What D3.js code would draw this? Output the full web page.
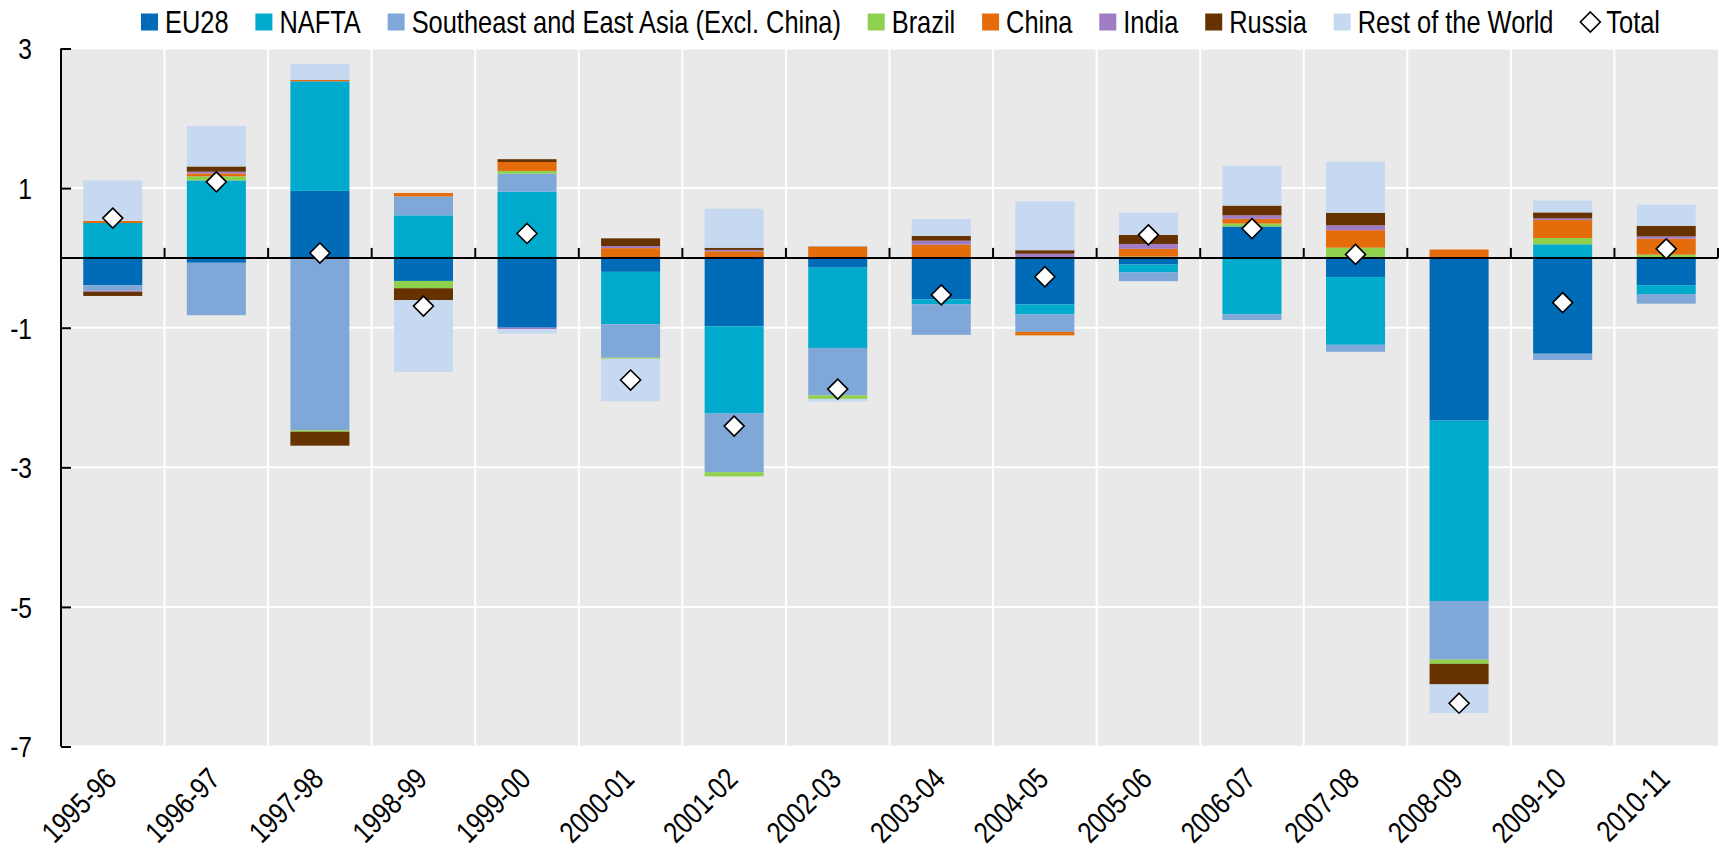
<!DOCTYPE html>
<html>
<head>
<meta charset="utf-8">
<script src="https://cdn.jsdelivr.net/npm/d3@7"></script>
<style>
  html, body { margin: 0; padding: 0; background: #ffffff; }
  svg { display: block; }
  text { font-family: "Liberation Sans", Arial, sans-serif; fill: #000; }
</style>
</head>
<body>
<svg id="chart" width="1721" height="850"></svg>
<script>
// ---------------- DATA ----------------
const categories = ["1995-96","1996-97","1997-98","1998-99","1999-00","2000-01","2001-02","2002-03",
                    "2003-04","2004-05","2005-06","2006-07","2007-08","2008-09","2009-10","2010-11"];

const seriesNames = ["EU28","NAFTA","Southeast and East Asia (Excl. China)","Brazil","China","India","Russia","Rest of the World"];

const EU28   = [-0.39,-0.07, 0.96,-0.33,-1.00,-0.20,-0.98,-0.14,-0.595,-0.667,-0.095, 0.45,-0.275,-2.33,-1.373,-0.39];
const NAFTA  = [ 0.50, 1.11, 1.57, 0.61, 0.95,-0.75,-1.25,-1.15,-0.067,-0.143,-0.114,-0.81,-0.97,-2.585, 0.195,-0.128];
const SEAsia = [-0.08,-0.75,-2.47, 0.27, 0.256,-0.48,-0.84,-0.68,-0.44,-0.25,-0.124,-0.08,-0.10,-0.84,-0.09,-0.138];
const Brazil = [ 0.00, 0.06,-0.02,-0.105, 0.04,-0.015,-0.06,-0.05, 0.00, 0.01, 0.02, 0.043, 0.147,-0.06, 0.09, 0.047];
const China  = [ 0.03, 0.04, 0.02, 0.05, 0.128, 0.14, 0.095, 0.156, 0.19,-0.05, 0.11, 0.067, 0.25, 0.12, 0.257, 0.228];
const India  = [-0.015, 0.025, 0.00, 0.00,-0.02, 0.03, 0.02, 0.00, 0.057, 0.05, 0.07, 0.05, 0.07, 0.00, 0.024, 0.033];
const Russia = [-0.06, 0.075,-0.20,-0.17, 0.04, 0.11, 0.03, 0.005, 0.07, 0.05, 0.13, 0.14, 0.18,-0.295, 0.086, 0.152];
const RestOfWorld = [0.58, 0.58, 0.23,-1.03,-0.066,-0.61, 0.56,-0.04, 0.24, 0.70, 0.32, 0.57, 0.73,-0.41, 0.17, 0.304];

const Total = [0.57, 1.09, 0.07,-0.69, 0.35,-1.75,-2.41,-1.88,-0.53,-0.27, 0.33, 0.42, 0.05,-6.38,-0.64, 0.13];

const yTicks = [3, 1, -1, -3, -5, -7];
const totalLabel = "Total";

// ---------------- STYLE ----------------
const seriesColors = ["#006bb6","#00aacc","#7fa8d8","#8fd14f","#e46c0a","#a07cc4","#663200","#c6d9f0"];
const plot = { left: 61, right: 1718, top: 48.5, bottom: 746.5 };
const fontSize = 30;
const legendFont = 31;
const NARROW = 0.82;   // horizontal condensing (Arial Narrow look)

// ---------------- BUILD ----------------
const seriesArrays = [EU28, NAFTA, SEAsia, Brazil, China, India, Russia, RestOfWorld];
const rows = categories.map((c, i) => {
  const r = { cat: c };
  seriesNames.forEach((s, k) => r[s] = seriesArrays[k][i]);
  return r;
});

const stacked = d3.stack().keys(seriesNames).offset(d3.stackOffsetDiverging)(rows);

const svg = d3.select("#chart");

const x = d3.scaleBand().domain(categories).range([plot.left, plot.right])
  .paddingInner(0.43).paddingOuter(0.215);
const y = d3.scaleLinear().domain([-7, 3]).range([plot.bottom, plot.top]);
const step = x.step();

// background
svg.append("rect").attr("x", plot.left).attr("y", plot.top)
  .attr("width", plot.right - plot.left).attr("height", plot.bottom - plot.top)
  .attr("fill", "#e9e9e9");

// horizontal gridlines
svg.append("g").selectAll("line").data(yTicks).join("line")
  .attr("x1", plot.left).attr("x2", plot.right)
  .attr("y1", d => y(d)).attr("y2", d => y(d))
  .attr("stroke", "#ffffff").attr("stroke-width", 2);

// vertical gridlines at category boundaries
const boundaries = d3.range(1, categories.length).map(i => plot.left + i * step);
svg.append("g").selectAll("line").data(boundaries).join("line")
  .attr("x1", d => d).attr("x2", d => d)
  .attr("y1", plot.top).attr("y2", plot.bottom)
  .attr("stroke", "#ffffff").attr("stroke-width", 2);

// bars
const gBars = svg.append("g");
stacked.forEach((layer, k) => {
  gBars.append("g").attr("fill", seriesColors[k])
    .selectAll("rect").data(layer).join("rect")
    .attr("x", d => x(d.data.cat))
    .attr("width", x.bandwidth())
    .attr("y", d => y(Math.max(d[0], d[1])))
    .attr("height", d => Math.abs(y(d[0]) - y(d[1])));
});

// zero line
svg.append("line").attr("x1", plot.left).attr("x2", plot.right)
  .attr("y1", y(0)).attr("y2", y(0)).attr("stroke", "#000").attr("stroke-width", 2);

// x ticks (upward from zero line at category boundaries)
const allBounds = d3.range(0, categories.length + 1).map(i => plot.left + i * step);
svg.append("g").selectAll("line").data(allBounds).join("line")
  .attr("x1", d => d).attr("x2", d => d)
  .attr("y1", y(0)).attr("y2", y(0) - 10)
  .attr("stroke", "#000").attr("stroke-width", 2);

// y axis (ticks pointing inward)
const yAxis = d3.axisLeft(y).tickValues(yTicks).tickSize(-10).tickFormat(() => "");
const gy = svg.append("g").attr("transform", `translate(${plot.left},0)`).call(yAxis);
gy.select(".domain").attr("stroke", "#000").attr("stroke-width", 2)
  .attr("d", `M0,${plot.top}V${plot.bottom}`);
gy.selectAll(".tick line").attr("stroke", "#000").attr("stroke-width", 2);
gy.selectAll(".tick text").remove();

// y labels (condensed)
svg.append("g").selectAll("text").data(yTicks).join("text")
  .attr("transform", d => `translate(32,${y(d)}) scale(${NARROW},1)`)
  .attr("text-anchor", "end")
  .attr("dy", "0.36em")
  .attr("font-size", fontSize)
  .text(d => String(d));

// x labels
svg.append("g").selectAll("text").data(categories).join("text")
  .attr("transform", d => `translate(${x(d) + x.bandwidth() / 2 - 10},${plot.bottom + 19}) rotate(-45) scale(${NARROW},1)`)
  .attr("text-anchor", "end")
  .attr("dy", "0.72em")
  .attr("font-size", fontSize)
  .text(d => d);

// totals (diamonds)
const diamond = r => `M0,${-r}L${r},0L0,${r}L${-r},0Z`;
svg.append("g").selectAll("path").data(categories).join("path")
  .attr("transform", (d, i) => `translate(${x(d) + x.bandwidth() / 2},${y(Total[i])})`)
  .attr("d", diamond(10))
  .attr("fill", "#ffffff").attr("stroke", "#000").attr("stroke-width", 1.6);

// legend
const legend = svg.append("g");
const legendItems = seriesNames.map((s, k) => ({ name: s, color: seriesColors[k], type: "rect" }))
  .concat([{ name: totalLabel, type: "diamond" }]);
const legY = 22;
const items = legendItems.map(it => {
  const g = legend.append("g");
  if (it.type === "rect") {
    g.append("rect").attr("x", 0).attr("y", legY - 8.5).attr("width", 17).attr("height", 17).attr("fill", it.color);
  } else {
    g.append("path").attr("d", diamond(10)).attr("transform", `translate(10,${legY})`)
      .attr("fill", "#fff").attr("stroke", "#000").attr("stroke-width", 1.6);
  }
  const off = it.type === "rect" ? 24 : 26;
  const t = g.append("text").attr("transform", `translate(${off},${legY}) scale(${NARROW},1)`)
    .attr("dy", "0.36em").attr("font-size", legendFont).text(it.name);
  const w = off + NARROW * t.node().getComputedTextLength();
  return { g, w };
});
const legStart = 141, legEnd = 1660;
const sumW = d3.sum(items, d => d.w);
const gap = Math.max(10, (legEnd - legStart - sumW) / (items.length - 1));
let cx = legStart;
items.forEach(it => { it.g.attr("transform", `translate(${cx},0)`); cx += it.w + gap; });
</script>
</body>
</html>
